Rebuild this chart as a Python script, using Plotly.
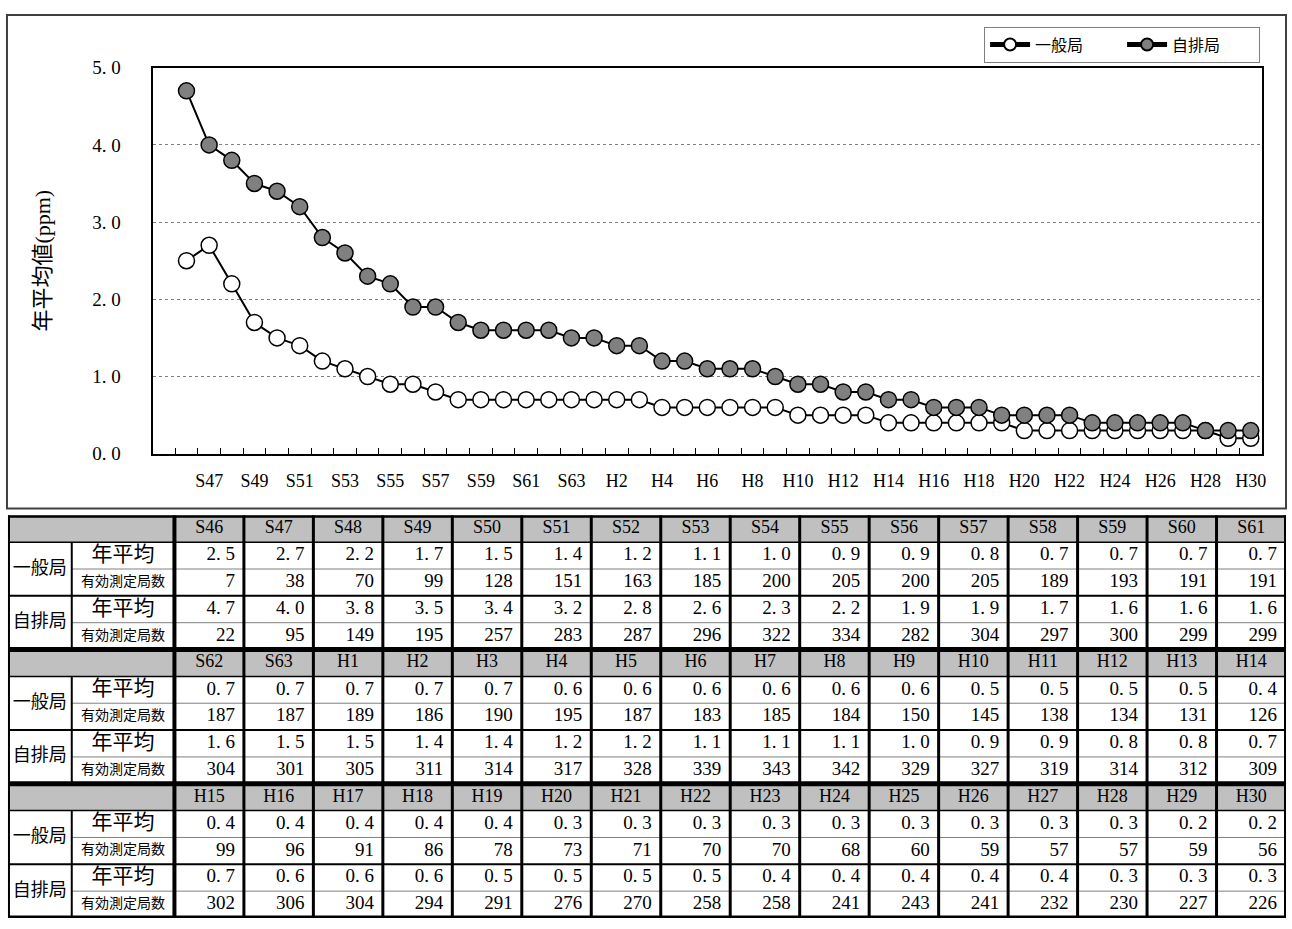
import plotly.graph_objects as go

# 年度
years = (["S%d" % y for y in range(46, 64)] +
         ["H%d" % y for y in range(1, 31)])

# 一般局 年平均 (ppm) / 有効測定局数
general_avg = [2.5, 2.7, 2.2, 1.7, 1.5, 1.4, 1.2, 1.1, 1.0, 0.9, 0.9, 0.8, 0.7, 0.7, 0.7, 0.7,
               0.7, 0.7, 0.7, 0.7, 0.7, 0.6, 0.6, 0.6, 0.6, 0.6, 0.6, 0.5, 0.5, 0.5, 0.5, 0.4,
               0.4, 0.4, 0.4, 0.4, 0.4, 0.3, 0.3, 0.3, 0.3, 0.3, 0.3, 0.3, 0.3, 0.3, 0.2, 0.2]
general_cnt = [7, 38, 70, 99, 128, 151, 163, 185, 200, 205, 200, 205, 189, 193, 191, 191,
               187, 187, 189, 186, 190, 195, 187, 183, 185, 184, 150, 145, 138, 134, 131, 126,
               99, 96, 91, 86, 78, 73, 71, 70, 70, 68, 60, 59, 57, 57, 59, 56]

# 自排局 年平均 (ppm) / 有効測定局数
roadside_avg = [4.7, 4.0, 3.8, 3.5, 3.4, 3.2, 2.8, 2.6, 2.3, 2.2, 1.9, 1.9, 1.7, 1.6, 1.6, 1.6,
                1.6, 1.5, 1.5, 1.4, 1.4, 1.2, 1.2, 1.1, 1.1, 1.1, 1.0, 0.9, 0.9, 0.8, 0.8, 0.7,
                0.7, 0.6, 0.6, 0.6, 0.5, 0.5, 0.5, 0.5, 0.4, 0.4, 0.4, 0.4, 0.4, 0.3, 0.3, 0.3]
roadside_cnt = [22, 95, 149, 195, 257, 283, 287, 296, 322, 334, 282, 304, 297, 300, 299, 299,
                304, 301, 305, 311, 314, 317, 328, 339, 343, 342, 329, 327, 319, 314, 312, 309,
                302, 306, 304, 294, 291, 276, 270, 258, 258, 241, 243, 241, 232, 230, 227, 226]

y_ticks = [0, 1, 2, 3, 4, 5]

W, H = 1292, 929
SERIF = "Liberation Serif, Noto Sans CJK JP"
GOTHIC = "Noto Sans CJK JP"


def px_x(x):
    return x / W


def px_y(y):
    return 1 - y / H


def fmt(v):
    s = "%.1f" % v
    return s.replace(".", ". ")


xs = list(range(len(years)))

fig = go.Figure()

fig.add_trace(go.Scatter(
    x=xs, y=general_avg, name="一般局", mode="lines+markers",
    line=dict(color="black", width=2),
    marker=dict(size=16, color="white", line=dict(color="black", width=1.5)),
))
fig.add_trace(go.Scatter(
    x=xs, y=roadside_avg, name="自排局", mode="lines+markers",
    line=dict(color="black", width=2),
    marker=dict(size=16, color="#808080", line=dict(color="black", width=1.5)),
))

# ---------- table (drawn on its own axes) ----------
col_w = [64, 103] + [69.7] * 16
edges = [0]
for w in col_w:
    edges.append(edges[-1] + w)
total_w = edges[-1]
n_blocks = 3
rows_per_block = 5
n_rows = n_blocks * rows_per_block
per_block = 16

shapes = []
hdr_x, hdr_y, hdr_t = [], [], []
num_x, num_y, num_t = [], [], []
grp_x, grp_y, grp_t = [], [], []
lab1_x, lab1_y, lab2_x, lab2_y = [], [], [], []

for b in range(n_blocks):
    top = b * rows_per_block
    shapes.append(dict(type="rect", xref="x2", yref="y2", x0=0, x1=total_w,
                       y0=top, y1=top + 1, fillcolor="#c0c0c0", line_width=0, layer="below"))
    for j in range(per_block):
        k = b * per_block + j
        cx = (edges[j + 2] + edges[j + 3]) / 2
        rx = edges[j + 3] - 9
        hdr_x.append(cx); hdr_y.append(top + 0.5); hdr_t.append(years[k])
        for r, val in enumerate([fmt(general_avg[k]), str(general_cnt[k]),
                                 fmt(roadside_avg[k]), str(roadside_cnt[k])]):
            num_x.append(rx); num_y.append(top + 1.5 + r); num_t.append(val)
    grp_x += [edges[1] / 2] * 2
    grp_y += [top + 2, top + 4]
    grp_t += ["一般局", "自排局"]
    lab1_x += [(edges[1] + edges[2]) / 2] * 2
    lab1_y += [top + 1.5, top + 3.5]
    lab2_x += [(edges[1] + edges[2]) / 2] * 2
    lab2_y += [top + 2.5, top + 4.5]

    # horizontal rules
    shapes.append(dict(type="line", xref="x2", yref="y2", x0=0, x1=total_w,
                       y0=top + 1, y1=top + 1, line=dict(color="black", width=1.5)))
    shapes.append(dict(type="line", xref="x2", yref="y2", x0=0, x1=total_w,
                       y0=top + 3, y1=top + 3, line=dict(color="black", width=2)))
    for yy in (top + 2, top + 4):
        shapes.append(dict(type="line", xref="x2", yref="y2", x0=edges[1], x1=total_w,
                           y0=yy, y1=yy, line=dict(color="#808080", width=1)))
    shapes.append(dict(type="line", xref="x2", yref="y2", x0=edges[1], x1=edges[1],
                       y0=top + 1, y1=top + rows_per_block, line=dict(color="black", width=2)))

for j in range(2, len(edges) - 1):
    shapes.append(dict(type="line", xref="x2", yref="y2", x0=edges[j], x1=edges[j],
                       y0=0, y1=n_rows, line=dict(color="black", width=4 if j == 2 else 3)))
for b in range(n_blocks + 1):
    yy = b * rows_per_block
    shapes.append(dict(type="line", xref="x2", yref="y2", x0=0, x1=total_w,
                       y0=yy, y1=yy, line=dict(color="black", width=5)))
for xx in (0, total_w):
    shapes.append(dict(type="line", xref="x2", yref="y2", x0=xx, x1=xx,
                       y0=0, y1=n_rows, line=dict(color="black", width=4)))

# outer frame of the chart area
shapes.append(dict(type="rect", xref="paper", yref="paper",
                   x0=px_x(7), x1=px_x(1290), y0=px_y(510), y1=px_y(5),
                   line=dict(color="#404040", width=2)))

common = dict(xaxis="x2", yaxis="y2", mode="text", showlegend=False,
              hoverinfo="skip", cliponaxis=False)
fig.add_trace(go.Scatter(x=hdr_x, y=hdr_y, text=hdr_t, textposition="middle center",
                         textfont=dict(family=SERIF, size=18, color="black"), **common))
fig.add_trace(go.Scatter(x=num_x, y=num_y, text=num_t, textposition="middle left",
                         textfont=dict(family=SERIF, size=19, color="black"), **common))
fig.add_trace(go.Scatter(x=grp_x, y=grp_y, text=grp_t, textposition="middle center",
                         textfont=dict(family=GOTHIC, size=18, color="black"), **common))
fig.add_trace(go.Scatter(x=lab1_x, y=lab1_y, text=["年平均"] * len(lab1_x),
                         textposition="middle center",
                         textfont=dict(family=GOTHIC, size=21, color="black"), **common))
fig.add_trace(go.Scatter(x=lab2_x, y=lab2_y, text=["有効測定局数"] * len(lab2_x),
                         textposition="middle center",
                         textfont=dict(family=GOTHIC, size=14, color="black"), **common))

fig.update_layout(
    width=W, height=H,
    margin=dict(l=0, r=0, t=0, b=0),
    paper_bgcolor="white", plot_bgcolor="white",
    font=dict(family=SERIF, size=18, color="black"),
    showlegend=True,
    legend=dict(orientation="h", x=px_x(1264), xanchor="right", y=px_y(17), yanchor="top",
                bordercolor="#808080", borderwidth=1, bgcolor="white",
                font=dict(family=GOTHIC, size=16), itemsizing="constant",
                itemwidth=40, entrywidth=82, tracegroupgap=0),
    xaxis=dict(
        domain=[px_x(153), px_x(1266)],
        range=[-1.5, len(years) - 0.5],
        tickmode="array",
        tickvals=xs[1::2], ticktext=years[1::2],
        ticks="", showgrid=False, zeroline=False,
        showline=True, linecolor="black", linewidth=2, mirror=True,
        ticklabelstandoff=10,
        tickfont=dict(family=SERIF, size=18),
        minor=dict(tickmode="linear", tick0=-0.5, dtick=1, ticks="inside",
                   ticklen=6, tickcolor="black", tickwidth=1, showgrid=False),
    ),
    yaxis=dict(
        domain=[px_y(454), px_y(59)],
        range=[0, 5],
        tickmode="array", tickvals=y_ticks, ticktext=[fmt(v) for v in y_ticks],
        ticks="", showgrid=True, gridcolor="#808080", griddash="dot", gridwidth=1,
        zeroline=False,
        showline=True, linecolor="black", linewidth=2, mirror=True,
        ticklabelstandoff=26,
        tickfont=dict(family=SERIF, size=19),
        title=dict(text="年平均値(ppm)", standoff=36,
                   font=dict(family=SERIF, size=22)),
    ),
    xaxis2=dict(domain=[px_x(8), px_x(1290)], range=[0, total_w], anchor="y2",
                visible=False, fixedrange=True),
    yaxis2=dict(domain=[0, px_y(517)], range=[n_rows, 0], anchor="x2",
                visible=False, fixedrange=True),
    shapes=shapes,
)

fig.write_html("out.html", config={"displayModeBar": False},
               post_script="document.body.style.margin = '0px';")
